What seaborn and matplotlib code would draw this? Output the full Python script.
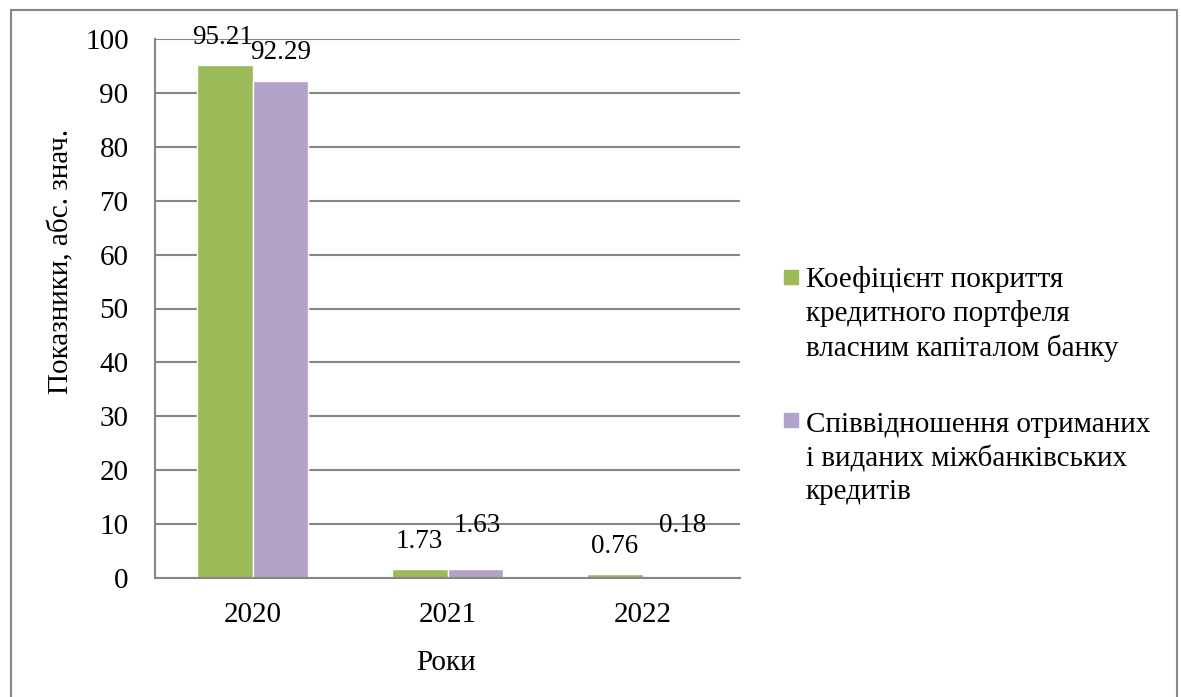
import numpy as np
import pandas as pd
import matplotlib
matplotlib.use("Agg")
import matplotlib.pyplot as plt
import matplotlib.patches as mpatches
import seaborn as sns

# ── Data ──────────────────────────────────────────────────────────────────────
years = ["2020", "2021", "2022"]
series_names = [
    "Коефіцієнт покриття\nкредитного портфеля\nвласним капіталом банку",
    "Співвідношення отриманих\nі виданих міжбанківських\nкредитів",
]
coverage = [95.21, 1.73, 0.76]
interbank = [92.29, 1.63, 0.18]

COLORS = ["#9BBB59", "#B3A2C7"]
GRID = "#868686"
FONT = ["Liberation Serif", "DejaVu Serif"]
FS = 21
FS_LABEL = 19.5

W, H = 1181, 697

df = pd.DataFrame({
    "year": years * 2,
    "series": [series_names[0]] * 3 + [series_names[1]] * 3,
    "value": coverage + interbank,
})

sns.set_theme(style="white")
plt.rcParams["font.family"] = FONT

fig = plt.figure(figsize=(W / 100, H / 100), dpi=100, facecolor="white")
ax = fig.add_axes([155 / W, 1 - 578 / H, (740 - 155) / W, (578 - 39) / H])

sns.barplot(data=df, x="year", y="value", hue="series", hue_order=series_names,
            palette=COLORS, width=0.574, saturation=1, legend=False, ax=ax)

ax.set_xlim(-0.5, 2.5)
ax.set_ylim(0, 100)
ax.set_yticks(range(0, 101, 10))
ax.yaxis.grid(True, color=GRID, linewidth=1.5)
ax.set_axisbelow(True)

for side in ["top", "right"]:
    ax.spines[side].set_visible(False)
for side in ["left", "bottom"]:
    ax.spines[side].set_color(GRID)
    ax.spines[side].set_linewidth(1.5)

# category boundary ticks (Excel style)
ax.set_xticks(np.arange(-0.5, 3, 1), minor=True)
ax.tick_params(axis="x", which="minor", length=9, width=1.5, color=GRID, direction="out")
ax.tick_params(axis="x", which="major", length=0, pad=17, labelsize=FS)
ax.tick_params(axis="y", length=7, width=1.5, color=GRID, direction="out", pad=12, labelsize=FS)
for lbl in ax.get_xticklabels() + ax.get_yticklabels():
    lbl.set_family(FONT)
    lbl.set_color("black")

ax.set_xlabel("Роки", fontsize=FS, color="black", va="center")
ax.xaxis.set_label_coords((446 - 155) / 585, (578 - 663) / 539)
ax.set_ylabel("Показники, абс. знач.", fontsize=FS, color="black", va="center")
ax.yaxis.set_label_coords((61 - 155) / 585, (578 - 261) / 539)

# Data labels (Excel nudges the purple ones upward to avoid overlap)
label_offsets = [[27, 27, 27], [28, 44, 52]]
label_shift_x = [[-2, 0, 0], [0, 2, 12]]
for i, cont in enumerate(ax.containers):
    vals = [coverage, interbank][i]
    for j, bar in enumerate(cont):
        ax.annotate(f"{vals[j]:.2f}",
                    (bar.get_x() + bar.get_width() / 2, bar.get_height()),
                    xytext=(label_shift_x[i][j], label_offsets[i][j]),
                    textcoords="offset pixels", ha="center", va="center",
                    fontsize=FS_LABEL, color="black", annotation_clip=False)

# Legend drawn manually so the square sits on the first line
legend_base = [287, 430]   # baseline of first line, pixels from top
line_step = 34.5
for k, name in enumerate(series_names):
    y = legend_base[k]
    n_lines = name.count("\n")
    fig.patches.append(mpatches.Rectangle(
        (784 / W, 1 - (y - 3) / H), 14 / W, 14 / H,
        transform=fig.transFigure, color=COLORS[k], figure=fig))
    fig.text(806 / W, 1 - (y + n_lines * line_step) / H, name, ha="left", va="baseline",
             fontsize=FS, color="black", linespacing=1.35)

# Chart border
border = mpatches.Rectangle((10.5 / W, -0.05), (1176.5 - 10.5) / W, 1.05 - 9.5 / H,
                            transform=fig.transFigure, fill=False,
                            edgecolor=GRID, linewidth=1.5, figure=fig)
fig.patches.append(border)

fig.savefig("out.png", dpi=100, facecolor="white")
plt.close(fig)
